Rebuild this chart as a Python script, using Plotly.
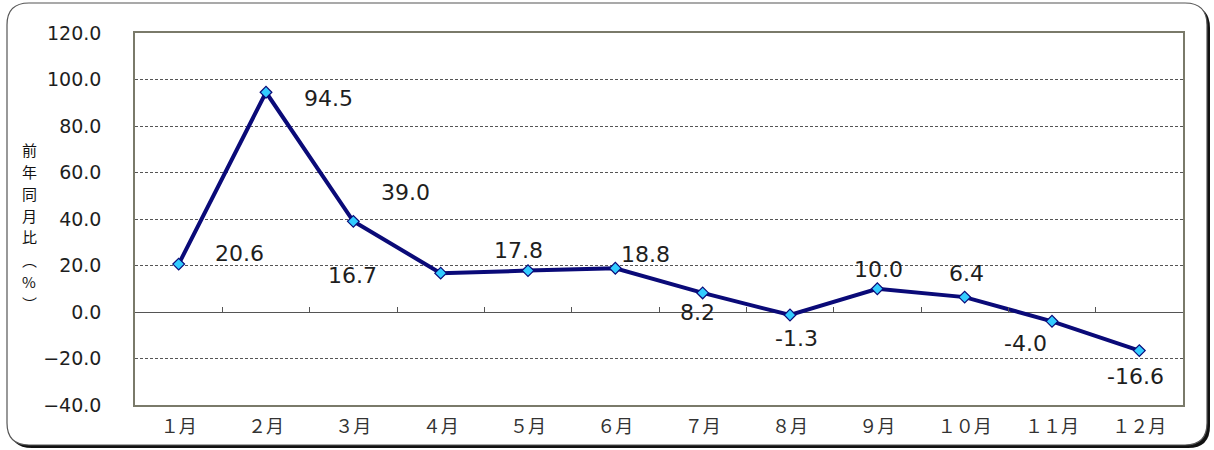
import plotly.graph_objects as go

months = ["１月", "２月", "３月", "４月", "５月", "６月", "７月", "８月", "９月", "１０月", "１１月", "１２月"]
values = [20.6, 94.5, 39.0, 16.7, 17.8, 18.8, 8.2, -1.3, 10.0, 6.4, -4.0, -16.6]
label_texts = ["20.6", "94.5", "39.0", "16.7", "17.8", "18.8", "8.2", "-1.3", "10.0", "6.4", "-4.0", "-16.6"]
y_ticks = [120, 100, 80, 60, 40, 20, 0, -20, -40]
y_tick_labels = ["120.0", "100.0", "80.0", "60.0", "40.0", "20.0", "0.0", "\u221220.0", "\u221240.0"]
y_title_chars = ["前", "年", "同", "月", "比", "︵", "%", "︶"]

# label offsets in pixels (style)
label_dx = [61, 62, 52, -88, -10, 30, -5, 6, 1, 2, -27, -4]
label_dy = [11, -6, 29, -2, 20, 14, -20, -23, 19, 24, -22, -26]

W, H = 1214, 450
PL, PR, PT, PB = 135, 1183, 33, 405

fig = go.Figure()
fig.add_trace(go.Scatter(
    x=list(range(len(months))), y=values, mode="lines+markers",
    line=dict(color="#0a0a78", width=4),
    marker=dict(symbol="diamond", size=9, color="#33ccff", line=dict(color="#0a0a78", width=1.2)),
    hoverinfo="skip", showlegend=False, cliponaxis=False,
))
# invisible trace to carry the zero-line tick axis
fig.add_trace(go.Scatter(x=[0, len(months) - 1], y=[0, 0], xaxis="x2", yaxis="y",
                         mode="markers", marker=dict(opacity=0), hoverinfo="skip", showlegend=False))

for i, (v, t) in enumerate(zip(values, label_texts)):
    fig.add_annotation(x=i, y=v, text=t, showarrow=False, xshift=label_dx[i], yshift=label_dy[i],
                       font=dict(family="DejaVu Sans", size=22, color="#1e1e1e"))

def px_x(p):
    return p / W

def px_y(p):
    return 1 - p / H

xr = [-0.5, len(months) - 0.5]
y_bot, y_top = px_y(PB), px_y(PT)
y0_paper = y_bot + (0 - (-40)) / 160 * (y_top - y_bot)

fig.update_layout(
    width=W, height=H,
    margin=dict(l=0, r=0, t=0, b=0, autoexpand=False),
    paper_bgcolor="white",
    plot_bgcolor="#fdfdc6",
    xaxis=dict(domain=[px_x(PL), px_x(PR)], range=xr, tickvals=list(range(len(months))), ticktext=months,
               showgrid=False, zeroline=False, showline=True, linecolor="#7a7a6a", linewidth=1.5, mirror=True,
               ticks="", tickfont=dict(family="Noto Sans CJK JP", size=18, color="#333333"),
               ticklabelstandoff=5, automargin=False),
    xaxis2=dict(overlaying="x", anchor="free", position=y0_paper, range=xr,
                tickvals=[i + 0.5 for i in range(len(months) - 1)], ticktext=[""] * (len(months) - 1),
                ticks="inside", ticklen=5, tickcolor="#555555", showgrid=False, zeroline=False,
                showline=False, side="bottom", automargin=False),
    yaxis=dict(domain=[y_bot, y_top], range=[-40, 120], tickvals=y_ticks, ticktext=y_tick_labels,
               showgrid=True, gridcolor="#555555", griddash="3px,2px", gridwidth=1,
               zeroline=True, zerolinecolor="#555555", zerolinewidth=1.2,
               showline=True, linecolor="#7a7a6a", linewidth=1.5, mirror=True,
               ticks="", tickfont=dict(family="DejaVu Sans", size=19, color="#1e1e1e"),
               ticklabelstandoff=28, automargin=False),
)

# vertical axis title, one character per line
for k, ch in enumerate(y_title_chars):
    fig.add_annotation(x=px_x(21), y=px_y(149 + 22 * k), xref="paper", yref="paper", showarrow=False,
                       text=ch, borderpad=0, yanchor="middle",
                       font=dict(family="Noto Sans CJK JP", size=15, color="#111111"))

def rrect(x0, y0, x1, y1, r):
    X = lambda p: px_x(p)
    Y = lambda p: px_y(p)
    return (f"M {X(x0 + r)} {Y(y0)} L {X(x1 - r)} {Y(y0)} Q {X(x1)} {Y(y0)} {X(x1)} {Y(y0 + r)} "
            f"L {X(x1)} {Y(y1 - r)} Q {X(x1)} {Y(y1)} {X(x1 - r)} {Y(y1)} "
            f"L {X(x0 + r)} {Y(y1)} Q {X(x0)} {Y(y1)} {X(x0)} {Y(y1 - r)} "
            f"L {X(x0)} {Y(y0 + r)} Q {X(x0)} {Y(y0)} {X(x0 + r)} {Y(y0)} Z")

fig.add_shape(type="path", xref="paper", yref="paper", path=rrect(10, 6, 1210, 448, 22),
              fillcolor="#111111", line=dict(width=0), layer="below")
fig.add_shape(type="path", xref="paper", yref="paper", path=rrect(7, 3, 1207, 445, 22),
              fillcolor="white", line=dict(color="#555555", width=1.2), layer="below")

fig.write_html("out.html", config={"displayModeBar": False},
               post_script="document.body.style.margin='0';document.body.style.overflow='hidden';")
